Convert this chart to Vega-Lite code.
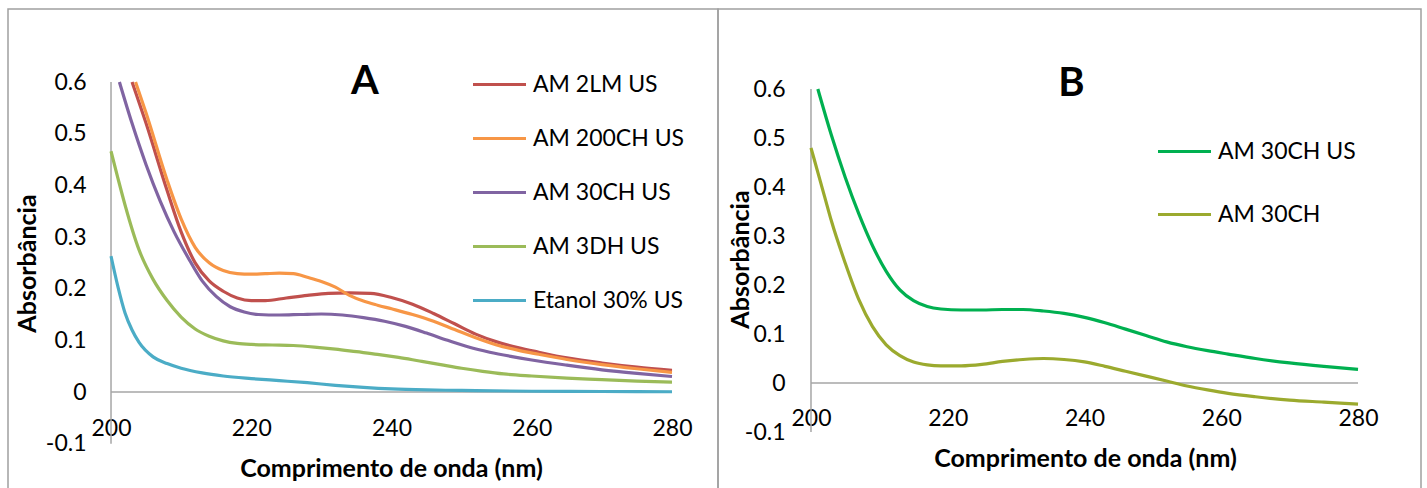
{
  "$schema": "https://vega.github.io/schema/vega-lite/v6.json",
  "padding": {"left": 7, "top": 8, "right": 0, "bottom": 0},
  "background": "white",
  "spacing": 0,
  "bounds": "flush",
  "datasets": {
    "A": [
      {"s": "AM 2LM US", "x": 203, "y": 0.6},
      {"s": "AM 2LM US", "x": 205, "y": 0.52},
      {"s": "AM 2LM US", "x": 208, "y": 0.39},
      {"s": "AM 2LM US", "x": 210, "y": 0.31},
      {"s": "AM 2LM US", "x": 212, "y": 0.25},
      {"s": "AM 2LM US", "x": 214, "y": 0.215},
      {"s": "AM 2LM US", "x": 216, "y": 0.195},
      {"s": "AM 2LM US", "x": 218, "y": 0.182},
      {"s": "AM 2LM US", "x": 220, "y": 0.177},
      {"s": "AM 2LM US", "x": 222, "y": 0.177},
      {"s": "AM 2LM US", "x": 225, "y": 0.182},
      {"s": "AM 2LM US", "x": 228, "y": 0.187},
      {"s": "AM 2LM US", "x": 231, "y": 0.191},
      {"s": "AM 2LM US", "x": 234, "y": 0.192},
      {"s": "AM 2LM US", "x": 237, "y": 0.191},
      {"s": "AM 2LM US", "x": 240, "y": 0.183},
      {"s": "AM 2LM US", "x": 243, "y": 0.17},
      {"s": "AM 2LM US", "x": 246, "y": 0.152},
      {"s": "AM 2LM US", "x": 249, "y": 0.132},
      {"s": "AM 2LM US", "x": 252, "y": 0.112},
      {"s": "AM 2LM US", "x": 255, "y": 0.097},
      {"s": "AM 2LM US", "x": 258, "y": 0.086},
      {"s": "AM 2LM US", "x": 261, "y": 0.077},
      {"s": "AM 2LM US", "x": 265, "y": 0.066},
      {"s": "AM 2LM US", "x": 270, "y": 0.056},
      {"s": "AM 2LM US", "x": 275, "y": 0.048},
      {"s": "AM 2LM US", "x": 280, "y": 0.042},
      {"s": "AM 200CH US", "x": 203.5, "y": 0.6},
      {"s": "AM 200CH US", "x": 205, "y": 0.54},
      {"s": "AM 200CH US", "x": 208, "y": 0.41},
      {"s": "AM 200CH US", "x": 210, "y": 0.335},
      {"s": "AM 200CH US", "x": 212, "y": 0.28},
      {"s": "AM 200CH US", "x": 214, "y": 0.25},
      {"s": "AM 200CH US", "x": 216, "y": 0.235},
      {"s": "AM 200CH US", "x": 218, "y": 0.229},
      {"s": "AM 200CH US", "x": 220, "y": 0.228},
      {"s": "AM 200CH US", "x": 222, "y": 0.229},
      {"s": "AM 200CH US", "x": 224, "y": 0.23},
      {"s": "AM 200CH US", "x": 226, "y": 0.229},
      {"s": "AM 200CH US", "x": 228, "y": 0.222},
      {"s": "AM 200CH US", "x": 230, "y": 0.214},
      {"s": "AM 200CH US", "x": 232, "y": 0.203},
      {"s": "AM 200CH US", "x": 234, "y": 0.187},
      {"s": "AM 200CH US", "x": 236, "y": 0.176},
      {"s": "AM 200CH US", "x": 238, "y": 0.168},
      {"s": "AM 200CH US", "x": 240, "y": 0.161},
      {"s": "AM 200CH US", "x": 243, "y": 0.15},
      {"s": "AM 200CH US", "x": 246, "y": 0.137},
      {"s": "AM 200CH US", "x": 249, "y": 0.121},
      {"s": "AM 200CH US", "x": 252, "y": 0.105},
      {"s": "AM 200CH US", "x": 255, "y": 0.091},
      {"s": "AM 200CH US", "x": 258, "y": 0.081},
      {"s": "AM 200CH US", "x": 261, "y": 0.073},
      {"s": "AM 200CH US", "x": 265, "y": 0.063},
      {"s": "AM 200CH US", "x": 270, "y": 0.053},
      {"s": "AM 200CH US", "x": 275, "y": 0.045},
      {"s": "AM 200CH US", "x": 280, "y": 0.038},
      {"s": "AM 30CH US", "x": 201.2, "y": 0.6},
      {"s": "AM 30CH US", "x": 203, "y": 0.52},
      {"s": "AM 30CH US", "x": 205, "y": 0.44},
      {"s": "AM 30CH US", "x": 207, "y": 0.37},
      {"s": "AM 30CH US", "x": 209, "y": 0.31},
      {"s": "AM 30CH US", "x": 211, "y": 0.26},
      {"s": "AM 30CH US", "x": 213, "y": 0.215},
      {"s": "AM 30CH US", "x": 215, "y": 0.185},
      {"s": "AM 30CH US", "x": 217, "y": 0.165},
      {"s": "AM 30CH US", "x": 219, "y": 0.155},
      {"s": "AM 30CH US", "x": 221, "y": 0.15},
      {"s": "AM 30CH US", "x": 224, "y": 0.149},
      {"s": "AM 30CH US", "x": 227, "y": 0.15},
      {"s": "AM 30CH US", "x": 230, "y": 0.151},
      {"s": "AM 30CH US", "x": 233, "y": 0.149},
      {"s": "AM 30CH US", "x": 236, "y": 0.144},
      {"s": "AM 30CH US", "x": 239, "y": 0.137},
      {"s": "AM 30CH US", "x": 242, "y": 0.127},
      {"s": "AM 30CH US", "x": 245, "y": 0.114},
      {"s": "AM 30CH US", "x": 248, "y": 0.1},
      {"s": "AM 30CH US", "x": 251, "y": 0.087},
      {"s": "AM 30CH US", "x": 254, "y": 0.077},
      {"s": "AM 30CH US", "x": 257, "y": 0.069},
      {"s": "AM 30CH US", "x": 260, "y": 0.062},
      {"s": "AM 30CH US", "x": 265, "y": 0.052},
      {"s": "AM 30CH US", "x": 270, "y": 0.043},
      {"s": "AM 30CH US", "x": 275, "y": 0.036},
      {"s": "AM 30CH US", "x": 280, "y": 0.03},
      {"s": "AM 3DH US", "x": 200, "y": 0.466},
      {"s": "AM 3DH US", "x": 201, "y": 0.413},
      {"s": "AM 3DH US", "x": 202, "y": 0.362},
      {"s": "AM 3DH US", "x": 204, "y": 0.275},
      {"s": "AM 3DH US", "x": 206, "y": 0.218},
      {"s": "AM 3DH US", "x": 208, "y": 0.177},
      {"s": "AM 3DH US", "x": 210, "y": 0.145},
      {"s": "AM 3DH US", "x": 212, "y": 0.122},
      {"s": "AM 3DH US", "x": 214, "y": 0.108},
      {"s": "AM 3DH US", "x": 216, "y": 0.099},
      {"s": "AM 3DH US", "x": 218, "y": 0.094},
      {"s": "AM 3DH US", "x": 220, "y": 0.092},
      {"s": "AM 3DH US", "x": 223, "y": 0.091},
      {"s": "AM 3DH US", "x": 226, "y": 0.09},
      {"s": "AM 3DH US", "x": 229, "y": 0.087},
      {"s": "AM 3DH US", "x": 232, "y": 0.083},
      {"s": "AM 3DH US", "x": 235, "y": 0.078},
      {"s": "AM 3DH US", "x": 238, "y": 0.073},
      {"s": "AM 3DH US", "x": 241, "y": 0.067},
      {"s": "AM 3DH US", "x": 244, "y": 0.06},
      {"s": "AM 3DH US", "x": 247, "y": 0.053},
      {"s": "AM 3DH US", "x": 250, "y": 0.046},
      {"s": "AM 3DH US", "x": 253, "y": 0.04},
      {"s": "AM 3DH US", "x": 256, "y": 0.035},
      {"s": "AM 3DH US", "x": 260, "y": 0.031},
      {"s": "AM 3DH US", "x": 265, "y": 0.027},
      {"s": "AM 3DH US", "x": 270, "y": 0.024},
      {"s": "AM 3DH US", "x": 275, "y": 0.021},
      {"s": "AM 3DH US", "x": 280, "y": 0.019},
      {"s": "Etanol 30% US", "x": 200, "y": 0.263},
      {"s": "Etanol 30% US", "x": 201, "y": 0.203},
      {"s": "Etanol 30% US", "x": 202, "y": 0.153},
      {"s": "Etanol 30% US", "x": 203, "y": 0.12},
      {"s": "Etanol 30% US", "x": 204, "y": 0.096},
      {"s": "Etanol 30% US", "x": 206, "y": 0.068},
      {"s": "Etanol 30% US", "x": 208, "y": 0.055},
      {"s": "Etanol 30% US", "x": 210, "y": 0.046},
      {"s": "Etanol 30% US", "x": 213, "y": 0.037},
      {"s": "Etanol 30% US", "x": 216, "y": 0.031},
      {"s": "Etanol 30% US", "x": 220, "y": 0.026},
      {"s": "Etanol 30% US", "x": 224, "y": 0.022},
      {"s": "Etanol 30% US", "x": 228, "y": 0.018},
      {"s": "Etanol 30% US", "x": 232, "y": 0.013},
      {"s": "Etanol 30% US", "x": 236, "y": 0.009},
      {"s": "Etanol 30% US", "x": 240, "y": 0.006},
      {"s": "Etanol 30% US", "x": 245, "y": 0.004},
      {"s": "Etanol 30% US", "x": 250, "y": 0.003},
      {"s": "Etanol 30% US", "x": 260, "y": 0.0015},
      {"s": "Etanol 30% US", "x": 270, "y": 0.001},
      {"s": "Etanol 30% US", "x": 280, "y": 0.0005}
    ],
    "B": [
      {"s": "AM 30CH US", "x": 201, "y": 0.6},
      {"s": "AM 30CH US", "x": 203, "y": 0.505},
      {"s": "AM 30CH US", "x": 205, "y": 0.42},
      {"s": "AM 30CH US", "x": 207, "y": 0.345},
      {"s": "AM 30CH US", "x": 209, "y": 0.28},
      {"s": "AM 30CH US", "x": 211, "y": 0.228},
      {"s": "AM 30CH US", "x": 213, "y": 0.19},
      {"s": "AM 30CH US", "x": 215, "y": 0.168},
      {"s": "AM 30CH US", "x": 217, "y": 0.156},
      {"s": "AM 30CH US", "x": 219, "y": 0.151},
      {"s": "AM 30CH US", "x": 222, "y": 0.149},
      {"s": "AM 30CH US", "x": 225, "y": 0.149},
      {"s": "AM 30CH US", "x": 228, "y": 0.15},
      {"s": "AM 30CH US", "x": 231, "y": 0.15},
      {"s": "AM 30CH US", "x": 234, "y": 0.147},
      {"s": "AM 30CH US", "x": 237, "y": 0.142},
      {"s": "AM 30CH US", "x": 240, "y": 0.134},
      {"s": "AM 30CH US", "x": 243, "y": 0.123},
      {"s": "AM 30CH US", "x": 246, "y": 0.11},
      {"s": "AM 30CH US", "x": 249, "y": 0.097},
      {"s": "AM 30CH US", "x": 252, "y": 0.084},
      {"s": "AM 30CH US", "x": 255, "y": 0.074},
      {"s": "AM 30CH US", "x": 258, "y": 0.066},
      {"s": "AM 30CH US", "x": 261, "y": 0.059},
      {"s": "AM 30CH US", "x": 265, "y": 0.05},
      {"s": "AM 30CH US", "x": 270, "y": 0.041},
      {"s": "AM 30CH US", "x": 275, "y": 0.034},
      {"s": "AM 30CH US", "x": 280, "y": 0.028},
      {"s": "AM 30CH", "x": 200, "y": 0.48},
      {"s": "AM 30CH", "x": 201, "y": 0.43},
      {"s": "AM 30CH", "x": 202, "y": 0.38},
      {"s": "AM 30CH", "x": 203, "y": 0.33},
      {"s": "AM 30CH", "x": 205, "y": 0.245},
      {"s": "AM 30CH", "x": 207, "y": 0.17},
      {"s": "AM 30CH", "x": 209, "y": 0.115},
      {"s": "AM 30CH", "x": 211, "y": 0.078},
      {"s": "AM 30CH", "x": 213, "y": 0.056},
      {"s": "AM 30CH", "x": 215, "y": 0.043},
      {"s": "AM 30CH", "x": 217, "y": 0.037},
      {"s": "AM 30CH", "x": 219, "y": 0.035},
      {"s": "AM 30CH", "x": 222, "y": 0.035},
      {"s": "AM 30CH", "x": 225, "y": 0.038},
      {"s": "AM 30CH", "x": 228, "y": 0.044},
      {"s": "AM 30CH", "x": 231, "y": 0.048},
      {"s": "AM 30CH", "x": 234, "y": 0.05},
      {"s": "AM 30CH", "x": 237, "y": 0.048},
      {"s": "AM 30CH", "x": 240, "y": 0.043},
      {"s": "AM 30CH", "x": 243, "y": 0.034},
      {"s": "AM 30CH", "x": 246, "y": 0.024},
      {"s": "AM 30CH", "x": 249, "y": 0.014},
      {"s": "AM 30CH", "x": 252, "y": 0.004},
      {"s": "AM 30CH", "x": 255, "y": -0.006},
      {"s": "AM 30CH", "x": 258, "y": -0.014},
      {"s": "AM 30CH", "x": 261, "y": -0.021},
      {"s": "AM 30CH", "x": 265, "y": -0.028},
      {"s": "AM 30CH", "x": 270, "y": -0.035},
      {"s": "AM 30CH", "x": 275, "y": -0.039},
      {"s": "AM 30CH", "x": 280, "y": -0.043}
    ]
  },
  "hconcat": [
    {
      "width": 710,
      "height": 482,
      "title": {"text": "A", "font": "Lato", "fontSize": 40, "fontWeight": "bold", "color": "#000", "anchor": "middle", "frame": "group", "baseline": "middle", "offset": 0, "dx": 2, "dy": 113},
      "layer": [
        {
          "data": {"values": [{}]},
          "mark": {"type": "rule", "color": "#a6a6a6", "strokeWidth": 1.5},
          "encoding": {
            "x": {"datum": 200, "type": "quantitative", "scale": {"domain": [185.31, 286.56]}},
            "y": {"datum": -0.1, "type": "quantitative", "scale": {"domain": [-0.1916, 0.7413]}},
            "y2": {"datum": 0.6}
          }
        },
        {
          "data": {"values": [{}]},
          "mark": {"type": "rule", "color": "#a6a6a6", "strokeWidth": 1.5},
          "encoding": {
            "x": {"datum": 200, "type": "quantitative"},
            "x2": {"datum": 280},
            "y": {"datum": 0, "type": "quantitative"}
          }
        },
        {
          "data": {"name": "A"},
          "mark": {"type": "line", "interpolate": "monotone", "strokeWidth": 3.2},
          "encoding": {
            "x": {"field": "x", "type": "quantitative", "scale": {"domain": [185.31, 286.56], "nice": false, "zero": false},
              "axis": {"values": [200, 220, 240, 260, 280], "title": "Comprimento de onda (nm)", "offset": -63, "labelPadding": 0, "labelBaseline": "middle", "titleX": 383, "titlePadding": 16}},
            "y": {"field": "y", "type": "quantitative", "scale": {"domain": [-0.1916, 0.7413], "nice": false, "zero": false},
              "axis": {"values": [-0.1, 0, 0.1, 0.2, 0.3, 0.4, 0.5, 0.6], "title": "Absorbância", "offset": -103, "labelPadding": 25, "titleY": 254, "titlePadding": 5,
                "labelExpr": "replace(format(datum.value, '.1~f'), '\u2212', '-')"}},
            "color": {"field": "s", "type": "nominal",
              "scale": {"domain": ["AM 2LM US", "AM 200CH US", "AM 30CH US", "AM 3DH US", "Etanol 30% US"], "range": ["#C0504D", "#F79646", "#8064A2", "#9BBB59", "#4BACC6"]},
              "legend": {"title": null, "orient": "none", "legendX": 463, "legendY": 47, "rowPadding": 13}}
          }
        }
      ]
    },
    {
      "width": 703,
      "height": 482,
      "title": {"text": "B", "font": "Lato", "fontSize": 40, "fontWeight": "bold", "color": "#000", "anchor": "middle", "frame": "group", "baseline": "middle", "offset": 0, "dx": 2, "dy": 115},
      "layer": [
        {
          "data": {"values": [{}]},
          "mark": {"type": "rule", "color": "#a6a6a6", "strokeWidth": 1.5},
          "encoding": {
            "x": {"datum": 200, "type": "quantitative", "scale": {"domain": [186.4, 289.21]}},
            "y": {"datum": -0.1, "type": "quantitative", "scale": {"domain": [-0.2204, 0.7633]}},
            "y2": {"datum": 0.6}
          }
        },
        {
          "data": {"values": [{}]},
          "mark": {"type": "rule", "color": "#a6a6a6", "strokeWidth": 1.5},
          "encoding": {
            "x": {"datum": 200, "type": "quantitative"},
            "x2": {"datum": 280},
            "y": {"datum": 0, "type": "quantitative"}
          }
        },
        {
          "data": {"name": "B"},
          "mark": {"type": "line", "interpolate": "monotone", "strokeWidth": 3.2},
          "encoding": {
            "x": {"field": "x", "type": "quantitative", "scale": {"domain": [186.4, 289.21], "nice": false, "zero": false},
              "axis": {"values": [200, 220, 240, 260, 280], "title": "Comprimento de onda (nm)", "offset": -73, "labelPadding": 0, "labelBaseline": "middle", "titleX": 367, "titlePadding": 16}},
            "y": {"field": "y", "type": "quantitative", "scale": {"domain": [-0.2204, 0.7633], "nice": false, "zero": false},
              "axis": {"values": [-0.1, 0, 0.1, 0.2, 0.3, 0.4, 0.5, 0.6], "title": "Absorbância", "offset": -93, "labelPadding": 26, "titleY": 250, "titlePadding": -9,
                "labelExpr": "replace(format(datum.value, '.1~f'), '\u2212', '-')"}},
            "color": {"field": "s", "type": "nominal",
              "scale": {"domain": ["AM 30CH US", "AM 30CH"], "range": ["#00B050", "#9BAA2E"]},
              "legend": {"title": null, "orient": "none", "legendX": 438, "legendY": 114, "rowPadding": 22}}
          }
        }
      ]
    }
  ],
  "resolve": {"scale": {"color": "independent", "x": "independent", "y": "independent"}, "legend": {"color": "independent"}},
  "config": {
    "view": {"stroke": "#a0a0a0", "strokeWidth": 1.5},
    "axis": {"labelFont": "Lato", "labelFontSize": 23, "labelColor": "#000", "titleFont": "Lato", "titleFontSize": 25, "titleFontWeight": "bold", "titleColor": "#000", "domain": false, "ticks": false, "tickSize": 0, "grid": false, "labelOverlap": false, "labelBound": false},
    "legend": {"symbolType": "stroke", "symbolSize": 2809, "symbolStrokeWidth": 3.2, "labelFont": "Lato", "labelFontSize": 23, "labelColor": "#000", "labelOffset": 5, "padding": 0, "labelLimit": 400}
  }
}
